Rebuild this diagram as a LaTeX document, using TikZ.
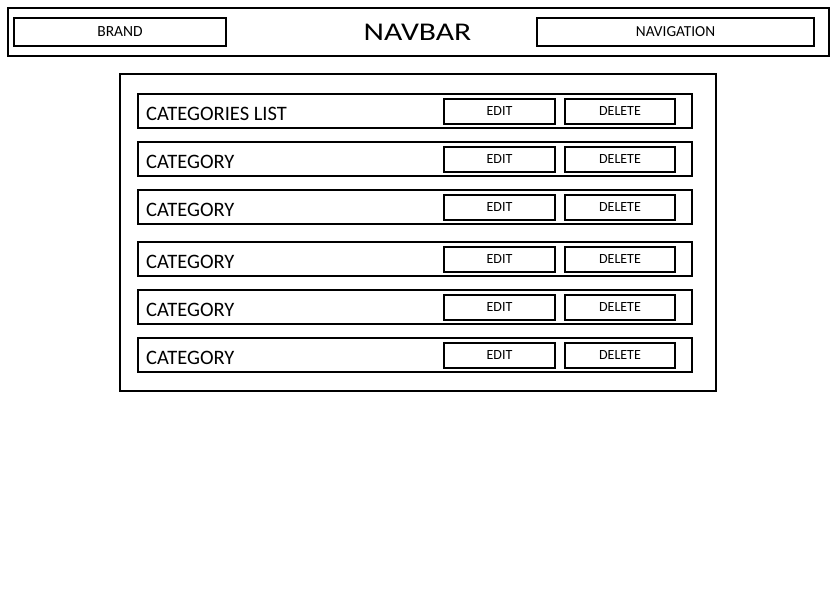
\documentclass[tikz,border=0pt]{standalone}
\usepackage{fontspec}
\usepackage{graphicx}
\setmainfont{Carlito}
\begin{document}
\begin{tikzpicture}[x=1pt,y=-1pt,
  box/.style={draw=black, line width=2pt, inner sep=0pt},
  btn/.style={box, minimum height=25pt, font=\fontsize{14}{16}\selectfont},
  rowbox/.style={box, minimum width=554pt, minimum height=34pt},
  rowlabel/.style={anchor=west, inner sep=0pt, font=\fontsize{20.5}{24}\selectfont}]
\fill[white] (0,0) rectangle (835,613);
\useasboundingbox (0,0) rectangle (835,613);
% navbar
\node[box, minimum width=821pt, minimum height=48pt] (navbar) at (418.5,32) {};
\node[box, minimum width=212pt, minimum height=28pt, font=\fontsize{15.5}{18}\selectfont] (brand) at (120,32) {BRAND};
\node[box, minimum width=277pt, minimum height=28pt, font=\fontsize{15.3}{18}\selectfont] (nav) at (675.5,32) {NAVIGATION};
\node[inner sep=0pt, font=\fontsize{25.5}{30}\selectfont] (navtitle) at (417.5,32) {\scalebox{1.24}[1]{NAVBAR}};
% container
\node[box, minimum width=596pt, minimum height=317pt] (container) at (418,232.5) {};
% rows
\foreach \i/\y/\t in {1/111/CATEGORIES LIST, 2/159/CATEGORY, 3/207/CATEGORY, 4/259/CATEGORY, 5/307/CATEGORY, 6/355/CATEGORY} {
  \node[rowbox] (row\i) at (415,\y) {};
  \node[rowlabel] (label\i) at (146,\y+2.5) {\t};
  \node[btn, minimum width=111pt] (edit\i) at (499.5,\y) {EDIT};
  \node[btn, minimum width=110pt] (del\i) at (620,\y) {DELETE};
}
\end{tikzpicture}
\end{document}
